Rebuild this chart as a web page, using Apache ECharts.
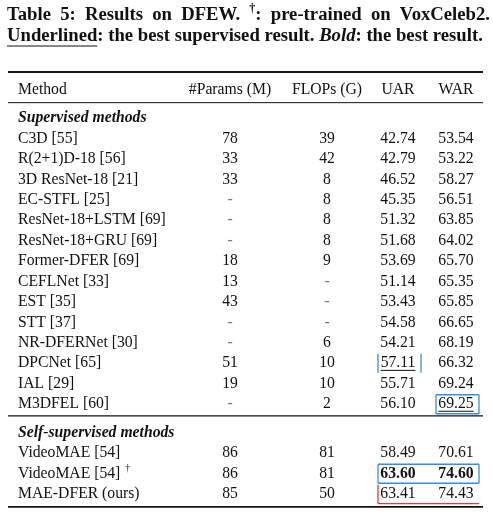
<!DOCTYPE html>
<html>
<head>
<meta charset="utf-8">
<script src="https://cdn.jsdelivr.net/npm/echarts@6/dist/echarts.min.js"></script>
<style>
html, body { margin: 0; padding: 0; background: #fff; }
#main { width: 493px; height: 515px; }
</style>
</head>
<body>
<div id="main"></div>
<script>
// ---- data ----
var titleLine1 = 'Table 5: Results on DFEW. †: pre-trained on VoxCeleb2.';
var header = ['Method', '#Params (M)', 'FLOPs (G)', 'UAR', 'WAR'];
var groups = ['Supervised methods', 'Self-supervised methods'];

var supMethods = ['C3D [55]', 'R(2+1)D-18 [56]', '3D ResNet-18 [21]', 'EC-STFL [25]', 'ResNet-18+LSTM [69]',
    'ResNet-18+GRU [69]', 'Former-DFER [69]', 'CEFLNet [33]', 'EST [35]', 'STT [37]', 'NR-DFERNet [30]',
    'DPCNet [65]', 'IAL [29]', 'M3DFEL [60]'];
var supParams = [78, 33, 33, null, null, null, 18, 13, 43, null, null, 51, 19, null];
var supFlops = [39, 42, 8, 8, 8, 8, 9, null, null, null, 6, 10, 10, 2];
var supUar = [42.74, 42.79, 46.52, 45.35, 51.32, 51.68, 53.69, 51.14, 53.43, 54.58, 54.21, 57.11, 55.71, 56.10];
var supWar = [53.54, 53.22, 58.27, 56.51, 63.85, 64.02, 65.70, 65.35, 65.85, 66.65, 68.19, 66.32, 69.24, 69.25];

var selfMethods = ['VideoMAE [54]', 'VideoMAE [54] †', 'MAE-DFER (ours)'];
var selfParams = [86, 86, 85];
var selfFlops = [81, 81, 50];
var selfUar = [58.49, 63.60, 63.41];
var selfWar = [70.61, 74.60, 74.43];

// annotation boxes drawn over the table: [group, row, firstCol, lastCol, sides, colour]
var boxes = [
    [0, 11, 3, 3, 'lr', 'blue'],
    [0, 13, 4, 4, 'lrtb', 'blue'],
    [1, 1, 3, 4, 'lrtb', 'blue'],
    [1, 2, 3, 4, 'lb', 'red']
];

// ---- layout ----
var FONT = '"Liberation Serif", "Times New Roman", serif';
var FS = 15.7;
var DY = 1.5; // visual centre of the glyphs sits a bit under the em-box middle
var colX = [18, 230, 327, 398, 456];
var boxColor = { blue: '#3f8ad8', red: '#e23b3b' };

var ctx = document.createElement('canvas').getContext('2d');
function tw(txt, font) { ctx.font = font; return ctx.measureText(txt).width; }
function num(v) { return v == null ? '-' : String(v); }
function argmax(a) { var k = 0; a.forEach(function (v, i) { if (v > a[k]) k = i; }); return k; }

var bestSupUar = argmax(supUar), bestSupWar = argmax(supWar);
var allUar = supUar.concat(selfUar), allWar = supWar.concat(selfWar);
var bestUar = argmax(allUar), bestWar = argmax(allWar);

var cells = [];   // {col, pos, text, kind, under, bold}
var rowPos = [[], []];
var pos = 0;
header.forEach(function (h, c) { cells.push({ col: c, pos: 0, text: h, kind: 'head' }); });

function addGroup(g, methods, params, flops, uar, war, offset) {
    pos += 1.4;
    cells.push({ col: 0, pos: pos, text: groups[g], kind: 'group' });
    methods.forEach(function (m, i) {
        pos += 1;
        rowPos[g].push(pos);
        var gi = offset + i;
        cells.push({ col: 0, pos: pos, text: m, kind: 'row' });
        cells.push({ col: 1, pos: pos, text: num(params[i]), kind: params[i] == null ? 'dash' : 'row' });
        cells.push({ col: 2, pos: pos, text: num(flops[i]), kind: flops[i] == null ? 'dash' : 'row' });
        cells.push({ col: 3, pos: pos, text: uar[i].toFixed(2), kind: 'row',
            under: g === 0 && i === bestSupUar, bold: gi === bestUar });
        cells.push({ col: 4, pos: pos, text: war[i].toFixed(2), kind: 'row',
            under: g === 0 && i === bestSupWar, bold: gi === bestWar });
    });
}
addGroup(0, supMethods, supParams, supFlops, supUar, supWar, 0);
var ruleGroup = pos + 0.64;
addGroup(1, selfMethods, selfParams, selfFlops, selfUar, selfWar, supMethods.length);
var rules = [[-0.78, 1.8], [0.72, 1], [ruleGroup, 1.3], [pos + 0.69, 1.8]];

// ---- title (justified first line) ----
var line2 = ['Underlined: the best supervised result. ', 'Bold', ': the best result.'];
function line2Width(size) {
    var f = 'bold ' + size + 'px ' + FONT;
    return tw(line2[0], f) + tw(line2[1], 'italic bold ' + size + 'px ' + FONT) + tw(line2[2], f);
}
var tLeft = 7, tRight = 490;
var TFS = Math.round(16 * 476 / line2Width(16) * 10) / 10;
var TF = 'bold ' + TFS + 'px ' + FONT;
var SUP = 'bold ' + Math.round(TFS * 0.65) + 'px ' + FONT;
var graphics = [];
var words = titleLine1.split(' ');
var wl = words.map(function (w) {
    if (w.indexOf('†') === 0) return tw('†', SUP) + tw(w.slice(1), TF);
    return tw(w, TF);
});
var gap = (tRight - tLeft - wl.reduce(function (a, b) { return a + b; }, 0)) / (words.length - 1);
var x = tLeft;
words.forEach(function (w, i) {
    if (w.indexOf('†') === 0) {
        graphics.push({ type: 'text', x: x, y: 9, style: { text: '†', font: SUP, fill: '#111', verticalAlign: 'middle' } });
        graphics.push({ type: 'text', x: x + tw('†', SUP), y: 15, style: { text: w.slice(1), font: TF, fill: '#111', verticalAlign: 'middle' } });
    } else {
        graphics.push({ type: 'text', x: x, y: 15, style: { text: w, font: TF, fill: '#111', verticalAlign: 'middle' } });
    }
    x += wl[i] + gap;
});
graphics.push({
    type: 'text', x: tLeft, y: 36,
    style: {
        text: '{b|' + line2[0] + '}{i|' + line2[1] + '}{b|' + line2[2] + '}',
        fill: '#111', verticalAlign: 'middle',
        rich: {
            b: { fontFamily: FONT, fontWeight: 'bold', fontSize: TFS, fill: '#111' },
            i: { fontFamily: FONT, fontWeight: 'bold', fontStyle: 'italic', fontSize: TFS, fill: '#111' }
        }
    }
});
graphics.push({
    type: 'line', shape: { x1: tLeft, y1: 46, x2: tLeft + tw('Underlined', TF), y2: 46 },
    style: { stroke: '#111', lineWidth: 1 }
});

// ---- chart ----
var chart = echarts.init(document.getElementById('main'));
var option = {
    animation: false,
    backgroundColor: '#fff',
    grid: { left: 0, right: 0, top: 67.5, bottom: 8 },
    xAxis: { type: 'value', min: 0, max: 493, show: false },
    yAxis: { type: 'value', inverse: true, min: -1, max: 20.5, show: false },
    graphic: graphics,
    series: [
        {
            type: 'custom',
            silent: true,
            clip: false,
            data: rules.map(function (r) { return [0, r[0], r[1]]; }),
            renderItem: function (params, api) {
                var a = api.coord([8, api.value(1)]);
                var b = api.coord([483, api.value(1)]);
                return { type: 'line', shape: { x1: a[0], y1: a[1], x2: b[0], y2: b[1] },
                    style: { stroke: '#111', lineWidth: api.value(2) } };
            }
        },
        {
            type: 'custom',
            silent: true,
            clip: false,
            data: cells.map(function (c) { return [colX[c.col], c.pos]; }),
            renderItem: function (params, api) {
                var c = cells[params.dataIndex];
                var p = api.coord([api.value(0), api.value(1)]);
                var y = p[1] + DY;
                var weight = c.kind === 'group' || c.bold ? 'bold' : 'normal';
                var font = (c.kind === 'group' ? 'italic ' : '') + weight + ' ' + FS + 'px ' + FONT;
                var align = c.col === 0 ? 'left' : 'center';
                var kids = [];
                if (c.text.indexOf('†') > 0) {
                    var base = c.text.replace(' †', '');
                    kids.push({ type: 'text', x: p[0], y: y, style: { text: base, font: font, fill: '#111', align: 'left', verticalAlign: 'middle' } });
                    kids.push({ type: 'text', x: p[0] + tw(base, font) + 5, y: y - 5, style: { text: '†', font: '10px ' + FONT, fill: '#111', align: 'left', verticalAlign: 'middle' } });
                } else {
                    kids.push({ type: 'text', x: p[0], y: y, style: { text: c.text, font: font,
                        fill: c.kind === 'dash' ? '#777' : '#111', align: align, verticalAlign: 'middle' } });
                }
                if (c.under) {
                    var w = tw(c.text, font);
                    kids.push({ type: 'line', shape: { x1: p[0] - w / 2, y1: y + 7, x2: p[0] + w / 2, y2: y + 7 },
                        style: { stroke: '#111', lineWidth: 1 } });
                }
                return { type: 'group', children: kids };
            }
        },
        {
            type: 'custom',
            silent: true,
            clip: false,
            data: boxes.map(function (b) { return [colX[b[2]], rowPos[b[0]][b[1]], colX[b[3]]]; }),
            renderItem: function (params, api) {
                var b = boxes[params.dataIndex];
                var p0 = api.coord([api.value(0), api.value(1)]);
                var p1 = api.coord([api.value(2), api.value(1)]);
                var cy = p0[1] + DY;
                var l = p0[0] - 20, r = p1[0] + 23, t = cy - 9.5, btm = cy + 9.5;
                var st = { stroke: boxColor[b[5]], lineWidth: 1.3 };
                var segs = [];
                if (b[4].indexOf('l') >= 0) segs.push([l, t, l, btm]);
                if (b[4].indexOf('r') >= 0) segs.push([r, t, r, btm]);
                if (b[4].indexOf('t') >= 0) segs.push([l, t, r, t]);
                if (b[4].indexOf('b') >= 0) segs.push([l, btm, r, btm]);
                return { type: 'group', children: segs.map(function (s) {
                    return { type: 'line', shape: { x1: s[0], y1: s[1], x2: s[2], y2: s[3] }, style: st };
                }) };
            }
        }
    ]
};
chart.setOption(option);
</script>
</body>
</html>
